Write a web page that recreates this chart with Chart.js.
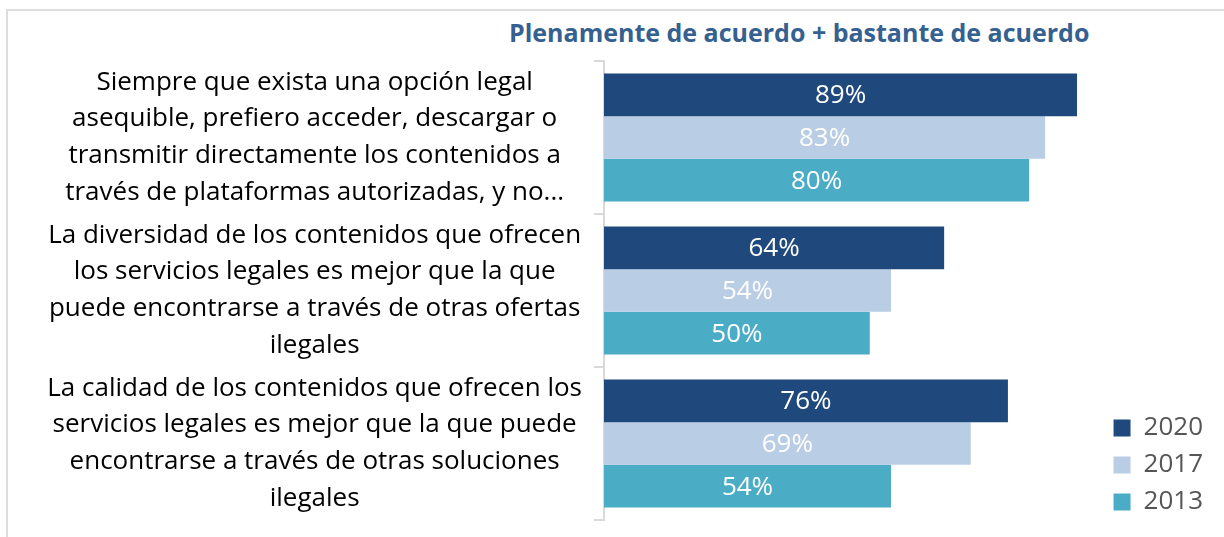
<!DOCTYPE html>
<html>
<head>
<meta charset="utf-8">
<script src="https://cdn.jsdelivr.net/npm/chart.js@4"></script>
<style>
  body { margin: 0; background: #fff; }
  #wrap { position: relative; width: 1224px; height: 537px; overflow: hidden; }
  #frame { position: absolute; left: 6px; top: 9px; width: 1240px; height: 560px;
           border-left: 2px solid #DDDDDD; border-top: 2px solid #DDDDDD; }
  #titulo { position: absolute; left: 509px; top: 15px; font-family: "Open Sans", sans-serif;
            font-weight: bold; font-size: 25px; color: #35608F; white-space: nowrap; }
  canvas { position: absolute; left: 0; top: 0; }
</style>
</head>
<body>
<div id="wrap">
  <div id="frame"></div>
  <div id="titulo">Plenamente de acuerdo + bastante de acuerdo</div>
  <canvas id="grafico" width="1224" height="537"></canvas>
</div>
<script>
// categorias (ya partidas en lineas como en el original)
var categorias = [
  ["Siempre que exista una opción legal", "asequible, prefiero acceder, descargar o", "transmitir directamente los contenidos a", "través de plataformas autorizadas, y no..."],
  ["La diversidad de los contenidos que ofrecen", "los servicios legales es mejor que la que", "puede encontrarse a través de otras ofertas", "ilegales"],
  ["La calidad de los contenidos que ofrecen los", "servicios legales es mejor que la que puede", "encontrarse a través de otras soluciones", "ilegales"]
];
var anios = ["2020", "2017", "2013"];
var valores2020 = [89, 64, 76];
var valores2017 = [83, 54, 69];
var valores2013 = [80, 50, 54];
var colores = ["#1F497D", "#B9CDE5", "#4BACC6"];

var fuente = "'Open Sans', sans-serif";

// etiquetas blancas en el centro de cada barra
var etiquetasBarras = {
  id: "etiquetasBarras",
  afterDatasetsDraw: function(chart) {
    var ctx = chart.ctx;
    ctx.save();
    ctx.font = "26px " + fuente;
    ctx.fillStyle = "#FFFFFF";
    ctx.textAlign = "center";
    ctx.textBaseline = "middle";
    chart.data.datasets.forEach(function(ds, i) {
      chart.getDatasetMeta(i).data.forEach(function(bar, j) {
        ctx.fillText(ds.data[j] + "%", (bar.x + bar.base) / 2, bar.y + 1);
      });
    });
    ctx.restore();
  }
};

// baja un poco la leyenda, como en el original
var moverLeyenda = {
  id: "moverLeyenda",
  afterLayout: function(chart) {
    chart.legend.top += 6;
    chart.legend.bottom += 6;
  }
};

var ctx = document.getElementById("grafico").getContext("2d");
var myChart = new Chart(ctx, {
  type: "bar",
  data: {
    labels: categorias,
    datasets: [
      { label: anios[0], data: valores2020, backgroundColor: colores[0] },
      { label: anios[1], data: valores2017, backgroundColor: colores[1] },
      { label: anios[2], data: valores2013, backgroundColor: colores[2] }
    ]
  },
  options: {
    indexAxis: "y",
    responsive: false,
    animation: false,
    layout: { padding: { top: 61, bottom: 17, right: 11, left: 0 } },
    datasets: { bar: { categoryPercentage: 0.837, barPercentage: 1.0 } },
    scales: {
      x: { display: false, min: 0, max: 93.8 },
      y: {
        grid: { drawOnChartArea: false, offset: true, tickLength: 10, color: "#D9D9D9", lineWidth: 2 },
        border: { color: "#D9D9D9", width: 2 },
        ticks: {
          crossAlign: "center",
          padding: 12,
          color: "#000000",
          font: { family: fuente, size: 26, lineHeight: 1.42 }
        },
        afterFit: function(scale) {
          scale.width = 604;
          scale.paddingTop = 0;
          scale.paddingBottom = 0;
        }
      }
    },
    plugins: {
      title: { display: false },
      tooltip: { enabled: false },
      legend: {
        position: "right",
        align: "end",
        labels: {
          boxWidth: 17,
          boxHeight: 17,
          padding: 11,
          color: "#555555",
          font: { family: fuente, size: 26 }
        }
      }
    }
  },
  plugins: [etiquetasBarras, moverLeyenda]
});
</script>
</body>
</html>
